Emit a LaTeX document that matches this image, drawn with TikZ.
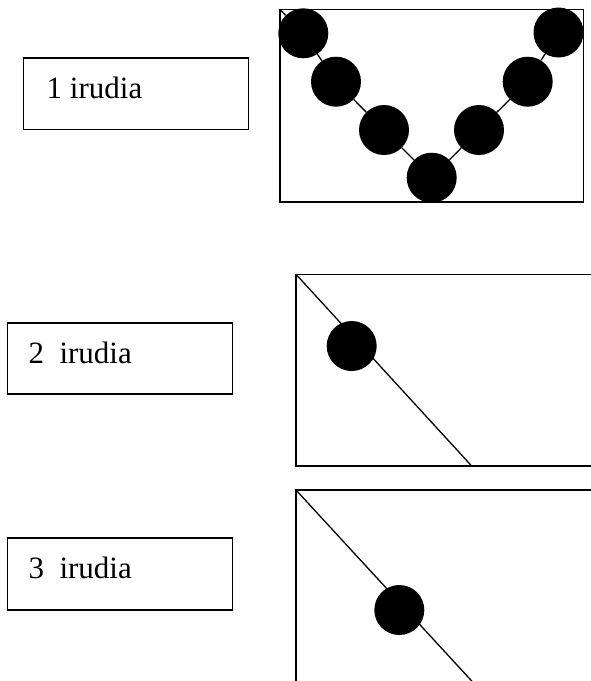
\documentclass[tikz,border=0pt]{standalone}
\usepackage{fontspec}
\setmainfont{Liberation Serif}
\begin{document}
\begin{tikzpicture}[x=1pt,y=-1pt,
  frame/.style={draw=black,line width=1.6pt},
  labelbox/.style={draw=black,line width=1.6pt,rectangle,minimum width=225pt,minimum height=71.5pt,inner sep=0pt},
  labeltext/.style={anchor=base west,inner sep=0pt,font=\fontsize{31}{31}\selectfont},
  bead/.style={circle,fill=black,draw=none,minimum size=50pt,inner sep=0pt},
  wire/.style={draw=black,line width=1.3pt}]
\clip (0,0) rectangle (591,681);

% label boxes on the left
\node[labelbox] (lab1) at (135.8,93.8) {};
\node[labeltext] (txt1) at (46.5,98) {1 irudia};
\node[labelbox] (lab2) at (119.8,358.5) {};
\node[labeltext] (txt2) at (28.3,363.3) {2\ \ irudia};
\node[labelbox] (lab3) at (119.8,574) {};
\node[labeltext] (txt3) at (28.3,578) {3\ \ irudia};

% panel 1: beads hanging in a V
\draw[frame] (280,9.5) rectangle (583.5,201.7);
\coordinate (p1tl) at (280,9.5);
\node[bead] (c1) at (303.3,33.3) {};
\node[bead] (c2) at (336,81.7) {};
\node[bead] (c3) at (384,130) {};
\node[bead] (c4) at (431.7,177.7) {};
\node[bead] (c5) at (479,130) {};
\node[bead] (c6) at (527.7,81.7) {};
\node[bead] (c7) at (558.5,32.5) {};
\draw[wire] (p1tl) -- (c1);
\draw[wire] (c1) -- (c2);
\draw[wire] (c2) -- (c3);
\draw[wire] (c3) -- (c4);
\draw[wire] (c4) -- (c5);
\draw[wire] (c5) -- (c6);
\draw[wire] (c6) -- (c7);

% panel 2: one bead near the top of the slope
\draw[frame] (600,274.3) -- (296,274.3) -- (296,466) -- (600,466);
\coordinate (p2a) at (296,274.3);
\coordinate (p2b) at (471.7,466);
\draw[wire] (p2a) -- (p2b);
\node[bead] (d1) at (351.7,346) {};

% panel 3: one bead further down the slope
\draw[frame] (600,490) -- (296,490) -- (296,690);
\coordinate (p3a) at (296,490);
\coordinate (p3b) at (480,690);
\draw[wire] (p3a) -- (p3b);
\node[bead] (e1) at (399.3,610) {};
\end{tikzpicture}
\end{document}
